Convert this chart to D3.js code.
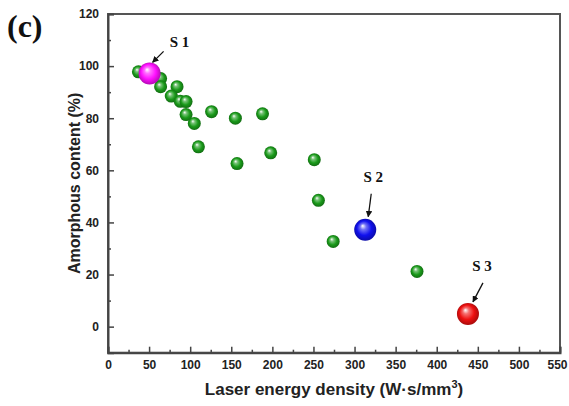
<!DOCTYPE html>
<html><head><meta charset="utf-8">
<script src="https://cdn.jsdelivr.net/npm/d3@7"></script>
<style>body{margin:0;background:#fff}</style>
</head><body>
<svg id="c" width="569" height="406"></svg>
<script>
const greenX = [37, 64, 64, 84, 77, 88, 95, 95, 105, 110, 126, 155, 188, 157, 198, 251, 256, 274, 376];
const greenY = [97.8, 95.2, 92.1, 92.1, 88.5, 86.5, 86.4, 81.4, 78, 69, 82.5, 80, 81.7, 62.6, 66.7, 64.1, 48.5, 32.7, 21.2];
const sampleNames = ["S 1", "S 2", "S 3"];
const sampleX = [50.6, 313, 438];
const sampleY = [97.2, 37.2, 4.9];
const sampleColors = ["#ff10ff", "#1010ee", "#ee1010"];
const xTicks = [0,50,100,150,200,250,300,350,400,450,500,550];
const yTicks = [0,20,40,60,80,100,120];

const svg = d3.select("#c");
const L=108, R=560, T=14, B=352.7;
const x = d3.scaleLinear().domain([0,550]).range([L,R]);
const y = d3.scaleLinear().domain([-10,120]).range([B,T]);

const defs = svg.append("defs");
function grad(id, base){
  const g = defs.append("radialGradient").attr("id",id).attr("cx","50%").attr("cy","50%").attr("r","55%").attr("fx","38%").attr("fy","32%");
  g.append("stop").attr("offset","0%").attr("stop-color","#ffffff");
  g.append("stop").attr("offset","25%").attr("stop-color",d3.interpolateRgb("#fff",base)(0.6));
  g.append("stop").attr("offset","60%").attr("stop-color",base);
  g.append("stop").attr("offset","100%").attr("stop-color",d3.color(base).darker(1.2));
}
grad("gg","#1a9a1a");
sampleColors.forEach((c,i)=>grad("gs"+i,c));
const mk = defs.append("marker").attr("id","arr").attr("viewBox","0 0 10 10").attr("refX",9).attr("refY",5)
  .attr("markerWidth",5).attr("markerHeight",5).attr("orient","auto");
mk.append("path").attr("d","M0,0L10,5L0,10z").attr("fill","#111");

// frame
svg.append("rect").attr("x",L).attr("y",T).attr("width",R-L).attr("height",B-T)
  .attr("fill","none").attr("stroke","#555").attr("stroke-width",2);

// axes
const xAxis = d3.axisBottom(x).tickValues(xTicks).tickSize(-6).tickPadding(8);
const gx = svg.append("g").attr("transform",`translate(0,${B})`).call(xAxis);
gx.selectAll(".tick text").filter(d=>d===550).attr("text-anchor","end").attr("dx",7);
const xMinor = d3.axisBottom(x).tickValues(d3.range(25,550,50)).tickSize(-3).tickFormat("");
svg.append("g").attr("transform",`translate(0,${B})`).call(xMinor).select(".domain").remove();
const yAxis = d3.axisLeft(y).tickValues(yTicks).tickSize(-6).tickPadding(9);
const gy = svg.append("g").attr("transform",`translate(${L},0)`).call(yAxis);
const yMinor = d3.axisLeft(y).tickValues(d3.range(10,120,20)).tickSize(-3).tickFormat("");
svg.append("g").attr("transform",`translate(${L},0)`).call(yMinor).select(".domain").remove();
svg.selectAll(".domain").attr("stroke","#444").attr("stroke-width",2);
svg.selectAll(".tick line").attr("stroke","#444").attr("stroke-width",1.5);
svg.selectAll(".tick text").attr("font-family","Liberation Sans, Arial, sans-serif").attr("font-size",12).attr("font-weight","bold").attr("fill","#222");

svg.append("text").attr("x",(L+R)/2).attr("y",395).attr("text-anchor","middle")
  .attr("font-family","Liberation Sans, Arial, sans-serif").attr("font-size",17).attr("font-weight","bold").attr("fill","#222")
  .html('Laser energy density (W·s/mm<tspan dy="-7" font-size="11">3</tspan><tspan dy="7">)</tspan>');
svg.append("text").attr("transform",`translate(80,${(T+B)/2}) rotate(-90)`).attr("text-anchor","middle")
  .attr("font-family","Liberation Sans, Arial, sans-serif").attr("font-size",16).attr("font-weight","bold").attr("fill","#222")
  .text("Amorphous content (%)");
svg.append("text").attr("x",7).attr("y",37).attr("font-family","Liberation Serif, Times New Roman, serif")
  .attr("font-size",32).attr("font-weight","bold").attr("fill","#111").text("(c)");

// points
svg.append("g").selectAll("circle").data(greenX.map((d,i)=>[d,greenY[i]])).join("circle")
  .attr("cx",d=>x(d[0])).attr("cy",d=>y(d[1])).attr("r",6.5).attr("fill","url(#gg)");
svg.append("g").selectAll("circle").data(sampleX.map((d,i)=>[d,sampleY[i],i])).join("circle")
  .attr("cx",d=>x(d[0])).attr("cy",d=>y(d[1])).attr("r",11).attr("fill",d=>`url(#gs${d[2]})`);

// labels + arrows (offsets relative to point)
const lab = [[{dx:30,dy:-26},{x1:14,y1:-22,x2:3,y2:-11}],[{dx:8,dy:-48},{x1:6,y1:-36,x2:3,y2:-13}],[{dx:14,dy:-43},{x1:15,y1:-31,x2:5,y2:-12}]];
sampleNames.forEach((n,i)=>{
  const px=x(sampleX[i]), py=y(sampleY[i]);
  svg.append("text").attr("x",px+lab[i][0].dx).attr("y",py+lab[i][0].dy).attr("text-anchor","middle")
    .attr("font-family","Liberation Serif, Times New Roman, serif").attr("font-size",15).attr("font-weight","bold").attr("fill","#111").text(n);
  const a=lab[i][1];
  svg.append("line").attr("x1",px+a.x1).attr("y1",py+a.y1).attr("x2",px+a.x2).attr("y2",py+a.y2)
    .attr("stroke","#111").attr("stroke-width",1.3).attr("marker-end","url(#arr)");
});
</script>
</body></html>
